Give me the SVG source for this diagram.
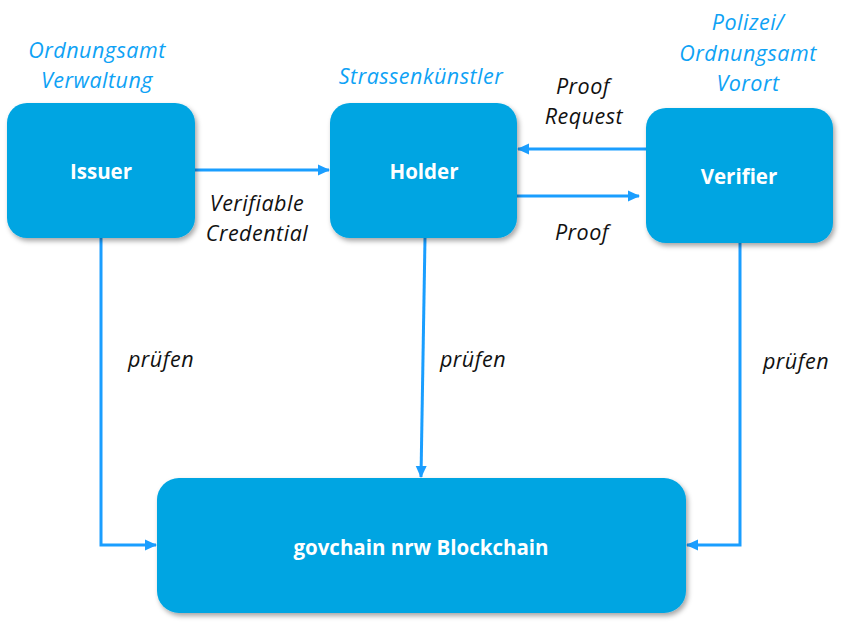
<svg xmlns="http://www.w3.org/2000/svg" width="844" height="624" viewBox="0 0 844 624">
<defs>
<filter id="sh" x="-10%" y="-10%" width="125%" height="130%">
<feDropShadow dx="2" dy="3" stdDeviation="2.5" flood-color="#000" flood-opacity="0.35"/>
</filter>
<marker id="ah" markerUnits="userSpaceOnUse" markerWidth="12" markerHeight="12" viewBox="0 0 12 12" refX="11" refY="6" orient="auto">
<path d="M0,0.5 L12,6 L0,11.5 Z" fill="#1A9EFF"/>
</marker>
</defs>
<style>
.box{fill:#06A5E2;filter:url(#sh)}
.nl{font-family:"Open Sans","Noto Sans",sans-serif;font-weight:bold;font-size:20.5px;fill:#fff;text-anchor:middle}
.role{font-family:"Open Sans","Noto Sans",sans-serif;font-style:italic;font-size:21.5px;letter-spacing:0.5px;fill:#0EA2F5;text-anchor:middle}
.el{font-family:"Open Sans","Noto Sans",sans-serif;font-style:italic;font-size:21.5px;letter-spacing:0.5px;fill:#111;text-anchor:middle}
.c{fill:none;stroke:#1A9EFF;stroke-width:3;marker-end:url(#ah)}
</style>
<rect width="844" height="624" fill="#fff"/>
<g id="connectors">
<path class="c" d="M195,170 H329"/>
<path class="c" d="M646,149 H518"/>
<path class="c" d="M517,196 H639"/>
<path class="c" d="M101,238 V545 H156"/>
<path class="c" d="M425,238 L421,477"/>
<path class="c" d="M740,243 V545 H687"/>
</g>
<g id="issuer">
<rect class="box" x="7" y="103" width="188" height="135" rx="20"/>
<text class="nl" x="101" y="179">Issuer</text>
</g>
<g id="holder">
<rect class="box" x="330" y="103" width="187" height="135" rx="20"/>
<text class="nl" x="424" y="179">Holder</text>
</g>
<g id="verifier">
<rect class="box" x="646" y="108" width="187" height="135" rx="20"/>
<text class="nl" x="739" y="184">Verifier</text>
</g>
<g id="blockchain">
<rect class="box" x="157" y="478" width="529" height="135" rx="22"/>
<text class="nl" x="421" y="555">govchain nrw Blockchain</text>
</g>
<g id="labels">
<text class="role" x="97" y="58">Ordnungsamt</text>
<text class="role" x="97" y="88">Verwaltung</text>
<text class="role" x="421" y="84">Strassenkünstler</text>
<text class="role" x="748" y="30">Polizei/</text>
<text class="role" x="748" y="61">Ordnungsamt</text>
<text class="role" x="748" y="91">Vorort</text>
<text class="el" x="583" y="94">Proof</text>
<text class="el" x="584" y="124">Request</text>
<text class="el" x="257" y="211">Verifiable</text>
<text class="el" x="257" y="241">Credential</text>
<text class="el" x="582" y="240">Proof</text>
<text class="el" x="161" y="367">prüfen</text>
<text class="el" x="473" y="367">prüfen</text>
<text class="el" x="796" y="369">prüfen</text>
</g>
</svg>
